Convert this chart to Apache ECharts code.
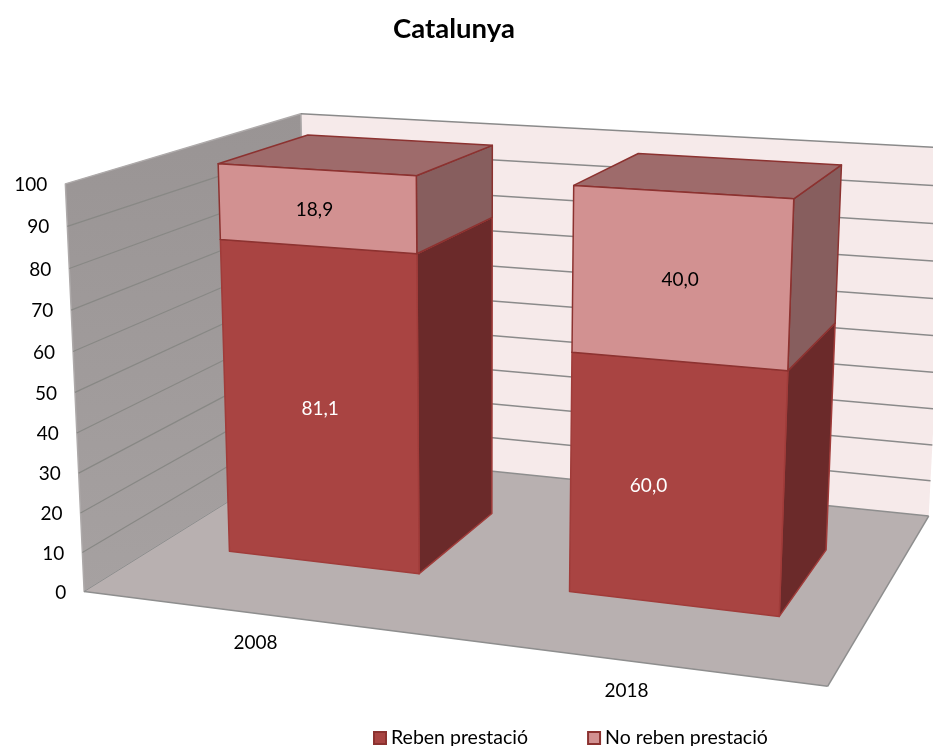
<!DOCTYPE html>
<html>
<head>
<meta charset="utf-8">
<style>
  html, body { margin: 0; padding: 0; background: #fff; }
  #chart { width: 933px; height: 746px; }
</style>
<script src="https://cdn.jsdelivr.net/npm/echarts@6/dist/echarts.min.js"></script>
</head>
<body>
<div id="chart"></div>
<script>
const categories = ['2008', '2018'];
const rebenValues = [81.1, 60.0];
const noRebenValues = [18.9, 40.0];
const valueTicks = [0, 10, 20, 30, 40, 50, 60, 70, 80, 90, 100];

const FONT = 'Lato';
const BAR_RATIO = 0.57;
const BAR_SHIFT = -0.002;
const DEPTH_FRONT = 0.305;
const DEPTH_BACK = 0.71;

// where the corners of the unit box (across, up, deep) land on the page
const boxAnchors = [
  [[0, 0, 0], [88, 588]],
  [[1, 0, 0], [828, 689]],
  [[1, 0, 1], [930, 513]],
  [[0, 0, 1], [303, 456]],
  [[0, 1, 0], [61, 185]],
  [[0, 1, 1], [306, 112]],
  [[1, 1, 1], [946, 149]]
];

// least squares fit of the 3x4 camera matrix
function fitCamera(anchors) {
  const rows = [];
  const rhs = [];
  anchors.forEach(([[X, Y, Z], [px, py]]) => {
    const x = px / 1000;
    const y = py / 1000;
    rows.push([X, Y, Z, 1, 0, 0, 0, 0, -x * X, -x * Y, -x * Z]);
    rhs.push(x);
    rows.push([0, 0, 0, 0, X, Y, Z, 1, -y * X, -y * Y, -y * Z]);
    rhs.push(y);
  });
  const n = 11;
  const a = [];
  for (let i = 0; i < n; i++) {
    a[i] = [];
    for (let j = 0; j < n; j++) {
      a[i][j] = rows.reduce((sum, r) => sum + r[i] * r[j], 0);
    }
    a[i][n] = rows.reduce((sum, r, k) => sum + r[i] * rhs[k], 0);
  }
  for (let i = 0; i < n; i++) {
    let pivot = i;
    for (let k = i + 1; k < n; k++) {
      if (Math.abs(a[k][i]) > Math.abs(a[pivot][i])) pivot = k;
    }
    [a[i], a[pivot]] = [a[pivot], a[i]];
    for (let k = 0; k < n; k++) {
      if (k === i) continue;
      const f = a[k][i] / a[i][i];
      for (let j = i; j <= n; j++) a[k][j] -= f * a[i][j];
    }
  }
  return a.map((row, i) => row[n] / row[i]);
}

const cam = fitCamera(boxAnchors);

function project(u, v, w) {
  const d = cam[8] * u + cam[9] * v + cam[10] * w + 1;
  return [
    1000 * (cam[0] * u + cam[1] * v + cam[2] * w + cam[3]) / d,
    1000 * (cam[4] * u + cam[5] * v + cam[6] * w + cam[7]) / d
  ];
}

function poly(points, fill, stroke, lineWidth) {
  return {
    type: 'polygon',
    shape: { points },
    style: { fill, stroke: stroke || null, lineWidth: lineWidth || 0, lineJoin: 'round' }
  };
}

function line(a, b, stroke, lineWidth) {
  return {
    type: 'polyline',
    shape: { points: [a, b] },
    style: { fill: null, stroke, lineWidth }
  };
}

function label(text, pos, fill, align) {
  return {
    type: 'text',
    style: {
      text,
      x: pos[0],
      y: pos[1],
      fill,
      font: '19px ' + FONT,
      align: align || 'center',
      verticalAlign: 'middle'
    }
  };
}

function renderWalls() {
  const corner = (u, v, w) => project(u, v, w);
  return {
    type: 'group',
    children: [
      poly([corner(0, 0, 1), corner(1, 0, 1), corner(1, 1, 1), corner(0, 1, 1)], '#f6eaea'),
      poly([corner(0, 0, 0), corner(0, 0, 1), corner(0, 1, 1), corner(0, 1, 0)],
        new echarts.graphic.LinearGradient(0, 0, 0, 1, [
          { offset: 0, color: '#999494' },
          { offset: 1, color: '#a6a1a1' }
        ]), '#aeaaaa', 1.5),
      poly([corner(0, 0, 0), corner(1, 0, 0), corner(1, 0, 1), corner(0, 0, 1)], '#b8b0b0'),
      line(corner(0, 0, 0), corner(1, 0, 0), '#8e8e8e', 1.5),
      line(corner(1, 0, 0), corner(1, 0, 1), '#8e8e8e', 1.5),
      line(corner(0, 0, 0), corner(0, 0, 1), '#8e8e8e', 1),
      line(corner(0, 0, 1), corner(1, 0, 1), '#8e8e8e', 1.5)
    ]
  };
}

function renderTick(params, api) {
  const sys = params.coordSys;
  const value = api.value(0);
  const v = (sys.y + sys.height - api.coord([0, value])[1]) / sys.height;
  const front = project(0, v, 0);
  const back = project(0, v, 1);
  const right = project(1, v, 1);
  const children = [label(String(value), [front[0] - 18, front[1] + 1], '#000', 'right')];
  if (value > 0) {
    children.unshift(line(back, right, '#8a8a8a', 1.5));
    if (value < 100) children.unshift(line(front, back, '#888885', 1.2));
  }
  return { type: 'group', children };
}

function renderCategoryLabel(params, api) {
  const sys = params.coordSys;
  const u = (api.coord([api.value(0), 0])[0] - sys.x) / sys.width;
  const p = project(u, 0, 0);
  return label(categories[api.value(0)], [p[0], p[1] + 30], '#000');
}

function stackRenderer(look) {
  return function (params, api) {
    const sys = params.coordSys;
    const idx = api.value(0);
    const centre = api.coord([idx, 0])[0];
    const half = api.size([1, 0])[0] * BAR_RATIO / 2;
    const u0 = (centre - half - sys.x) / sys.width + BAR_SHIFT;
    const u1 = (centre + half - sys.x) / sys.width + BAR_SHIFT;
    const toV = val => (sys.y + sys.height - api.coord([idx, val])[1]) / sys.height;
    const v0 = toV(api.value(1));
    const v1 = toV(api.value(2));
    const f = DEPTH_FRONT;
    const b = DEPTH_BACK;
    const mid = project((u0 + u1) / 2, (v0 + v1) / 2, f);
    const children = [
      poly([project(u1, v0, f), project(u1, v0, b), project(u1, v1, b), project(u1, v1, f)], look.side, look.edge, 1.5),
      poly([project(u0, v1, f), project(u1, v1, f), project(u1, v1, b), project(u0, v1, b)], look.top, look.edge, 1.5),
      poly([project(u0, v0, f), project(u1, v0, f), project(u1, v1, f), project(u0, v1, f)], look.front, look.edge, 1.5),
      label(api.value(3).toFixed(1).replace('.', ','), [mid[0] + look.labelShift[idx], mid[1] + 2], look.text)
    ];
    return { type: 'group', children };
  };
}

const rebenData = categories.map((_, i) => [i, 0, rebenValues[i], rebenValues[i]]);
const noRebenData = categories.map((_, i) => [i, rebenValues[i], rebenValues[i] + noRebenValues[i], noRebenValues[i]]);

const chart = echarts.init(document.getElementById('chart'));

chart.setOption({
  animation: false,
  backgroundColor: '#fff',
  title: {
    text: 'Catalunya',
    left: 449,
    top: 10,
    textAlign: 'center',
    textStyle: { fontFamily: FONT, fontSize: 27.5, fontWeight: 'bold', color: '#000' }
  },
  legend: {
    data: ['Reben prestació', 'No reben prestació'],
    left: 368,
    top: 723,
    icon: 'rect',
    itemWidth: 12,
    itemHeight: 12,
    itemGap: 59,
    textStyle: { fontFamily: FONT, fontSize: 19.5, color: '#000' }
  },
  grid: { left: 85, right: 105, top: 186, bottom: 156 },
  xAxis: { type: 'category', data: categories, show: false },
  yAxis: { type: 'value', min: 0, max: 100, interval: 10, show: false },
  series: [
    {
      type: 'custom',
      silent: true,
      data: [[0, 0]],
      renderItem: renderWalls,
      encode: { x: 0, y: 1 }
    },
    {
      type: 'custom',
      silent: true,
      data: valueTicks.map(t => [t]),
      renderItem: renderTick,
      coordinateSystem: 'cartesian2d',
      encode: { y: 0 }
    },
    {
      type: 'custom',
      silent: true,
      data: categories.map((_, i) => [i]),
      renderItem: renderCategoryLabel,
      encode: { x: 0 }
    },
    {
      name: 'Reben prestació',
      type: 'custom',
      data: rebenData,
      itemStyle: { color: '#a94442', borderColor: '#8c3230', borderWidth: 1.5 },
      renderItem: stackRenderer({ front: '#a94442', side: '#6b2a2a', top: '#9e6b6b', edge: '#a03c3a', text: '#fff', labelShift: [0, -27] }),
      encode: { x: 0, y: 2 }
    },
    {
      name: 'No reben prestació',
      type: 'custom',
      data: noRebenData,
      itemStyle: { color: '#d29191', borderColor: '#8c3230', borderWidth: 1.5 },
      renderItem: stackRenderer({ front: '#d29191', side: '#875e5e', top: '#9e6b6b', edge: '#8c3230', text: '#000', labelShift: [-2, 0] }),
      encode: { x: 0, y: 2 }
    }
  ]
});

window.addEventListener('resize', () => chart.resize());
</script>
</body>
</html>
